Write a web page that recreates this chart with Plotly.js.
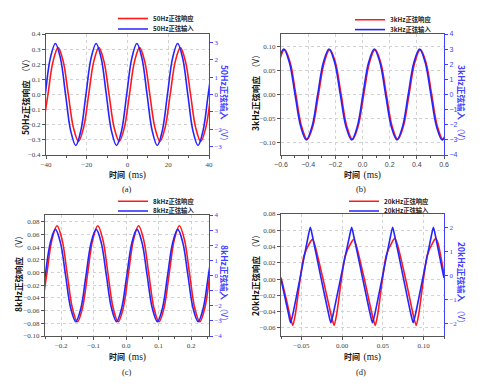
<!DOCTYPE html>
<html><head><meta charset="utf-8">
<script src="https://cdn.plot.ly/plotly-3.0.1.min.js"></script>
<style>html,body{margin:0;padding:0;background:#fff}#chart{width:479px;height:388px}</style>
</head><body><div id="chart"></div>
<script>
// ---------- Panel (a) 50Hz ----------
const aTimeIn = [-42.9, -40.4, -37.9, -35.4, -32.9, -30.4, -27.9, -25.4, -22.9, -20.4, -17.9, -15.4, -12.9, -10.4, -7.9, -5.4, -2.9, -0.4, 2.1, 4.6, 7.1, 9.6, 12.1, 14.6, 17.1, 19.6, 22.1, 24.6, 27.1, 29.6, 32.1, 34.6, 37.1, 39.6, 42.1];
const aIn = [-2.09, 0, 2.09, 2.95, 2.09, 0, -2.09, -2.95, -2.09, 0, 2.09, 2.95, 2.09, 0, -2.09, -2.95, -2.09, 0, 2.09, 2.95, 2.09, 0, -2.09, -2.95, -2.09, 0, 2.09, 2.95, 2.09, 0, -2.09, -2.95, -2.09, 0, 2.09];
const aTimeResp = [-41.55, -39.05, -36.55, -34.05, -31.55, -29.05, -26.55, -24.05, -21.55, -19.05, -16.55, -14.05, -11.55, -9.05, -6.55, -4.05, -1.55, 0.95, 3.45, 5.95, 8.45, 10.95, 13.45, 15.95, 18.45, 20.95, 23.45, 25.95, 28.45, 30.95, 33.45, 35.95, 38.45, 40.95, 43.45];
const aResp = [-0.219, 0, 0.219, 0.31, 0.219, 0, -0.219, -0.31, -0.219, 0, 0.219, 0.31, 0.219, 0, -0.219, -0.31, -0.219, 0, 0.219, 0.31, 0.219, 0, -0.219, -0.31, -0.219, 0, 0.219, 0.31, 0.219, 0, -0.219, -0.31, -0.219, 0, 0.219];

// ---------- Panel (b) 3kHz ----------
const bTimeIn = [-0.705, -0.6633, -0.6217, -0.58, -0.5383, -0.4967, -0.455, -0.4133, -0.3717, -0.33, -0.2883, -0.2467, -0.205, -0.1633, -0.1217, -0.08, -0.0383, 0.0033, 0.045, 0.0867, 0.1283, 0.17, 0.2117, 0.2533, 0.295, 0.3367, 0.3783, 0.42, 0.4617, 0.5033, 0.545, 0.5867, 0.6283];
const bIn = [-2.12, 0, 2.12, 3, 2.12, 0, -2.12, -3, -2.12, 0, 2.12, 3, 2.12, 0, -2.12, -3, -2.12, 0, 2.12, 3, 2.12, 0, -2.12, -3, -2.12, 0, 2.12, 3, 2.12, 0, -2.12, -3, -2.12];
const bTimeResp = [-0.699, -0.6573, -0.6157, -0.574, -0.5323, -0.4907, -0.449, -0.4073, -0.3657, -0.324, -0.2823, -0.2407, -0.199, -0.1573, -0.1157, -0.074, -0.0323, 0.0093, 0.051, 0.0927, 0.1343, 0.176, 0.2177, 0.2593, 0.301, 0.3427, 0.3843, 0.426, 0.4677, 0.5093, 0.551, 0.5927, 0.6343];
const bResp = [-0.0665, 0, 0.0665, 0.094, 0.0665, 0, -0.0665, -0.094, -0.0665, 0, 0.0665, 0.094, 0.0665, 0, -0.0665, -0.094, -0.0665, 0, 0.0665, 0.094, 0.0665, 0, -0.0665, -0.094, -0.0665, 0, 0.0665, 0.094, 0.0665, 0, -0.0665, -0.094, -0.0665];

// ---------- Panel (c) 8kHz ----------
const cTimeIn = [-0.2651, -0.2494, -0.2337, -0.218, -0.2023, -0.1866, -0.1709, -0.1552, -0.1395, -0.1238, -0.1081, -0.0924, -0.0767, -0.061, -0.0453, -0.0296, -0.0139, 0.0018, 0.0175, 0.0332, 0.0489, 0.0646, 0.0803, 0.096, 0.1117, 0.1274, 0.1431, 0.1588, 0.1745, 0.1902, 0.2059, 0.2216, 0.2373, 0.253, 0.2687];
const cIn = [-2.16, 0, 2.16, 3.05, 2.16, 0, -2.16, -3.05, -2.16, 0, 2.16, 3.05, 2.16, 0, -2.16, -3.05, -2.16, 0, 2.16, 3.05, 2.16, 0, -2.16, -3.05, -2.16, 0, 2.16, 3.05, 2.16, 0, -2.16, -3.05, -2.16, 0, 2.16];
const cTimeResp = [-0.2601, -0.2444, -0.2287, -0.213, -0.1973, -0.1816, -0.1659, -0.1502, -0.1345, -0.1188, -0.1031, -0.0874, -0.0717, -0.056, -0.0403, -0.0246, -0.0089, 0.0068, 0.0225, 0.0382, 0.0539, 0.0696, 0.0853, 0.101, 0.1167, 0.1324, 0.1481, 0.1638, 0.1795, 0.1952, 0.2109, 0.2266, 0.2423, 0.258, 0.2737];
const cResp = [-0.0554, -0.0018, 0.0518, 0.074, 0.0518, -0.0018, -0.0554, -0.0776, -0.0554, -0.0018, 0.0518, 0.074, 0.0518, -0.0018, -0.0554, -0.0776, -0.0554, -0.0018, 0.0518, 0.074, 0.0518, -0.0018, -0.0554, -0.0776, -0.0554, -0.0018, 0.0518, 0.074, 0.0518, -0.0018, -0.0554, -0.0776, -0.0554, -0.0018, 0.0518];

// ---------- Panel (d) 20kHz ----------
const dTimeIn = [-0.075, -0.066, -0.0633, -0.0605, -0.051, -0.0415, -0.039, -0.0365, -0.0265, -0.0165, -0.0138, -0.011, -0.0012, 0.0092, 0.0117, 0.0142, 0.0245, 0.0345, 0.0373, 0.0401, 0.0497, 0.0595, 0.062, 0.0645, 0.0746, 0.0844, 0.0872, 0.09, 0.0996, 0.1095, 0.112, 0.1145, 0.125];
const dIn = [-0.15, -1.55, -1.95, -1.6, 0.0, 1.65, 2.0, 1.65, 0.0, -1.6, -1.95, -1.6, 0.0, 1.65, 2.0, 1.65, 0.0, -1.6, -1.95, -1.6, 0.0, 1.65, 2.0, 1.65, 0.0, -1.6, -1.95, -1.6, 0.0, 1.65, 2.0, 1.65, -0.1];
const dTimeResp = [-0.075, -0.068, -0.0635, -0.0605, -0.0575, -0.047, -0.0395, -0.0365, -0.0335, -0.0225, -0.0128, -0.0098, -0.0068, 0.0037, 0.0112, 0.0142, 0.0172, 0.0282, 0.0376, 0.0406, 0.0436, 0.0541, 0.0616, 0.0646, 0.0676, 0.0786, 0.0879, 0.0909, 0.0939, 0.1044, 0.1119, 0.1149, 0.1179, 0.125];
const dResp = [0.002, -0.027, -0.047, -0.057, -0.044, 0.028, 0.045, 0.049, 0.042, -0.004, -0.047, -0.057, -0.044, 0.028, 0.045, 0.049, 0.042, -0.004, -0.047, -0.057, -0.044, 0.029, 0.046, 0.050, 0.043, -0.003, -0.047, -0.057, -0.044, 0.029, 0.046, 0.050, 0.043, 0.006];

// ---------- Labels ----------
const respNames = ['50Hz正弦响应', '3kHz正弦响应', '8kHz正弦响应', '20kHz正弦响应'];
const inNames = ['50Hz正弦输入', '3kHz正弦输入', '8kHz正弦输入', '20kHz正弦输入'];
const captions = ['(a)', '(b)', '(c)', '(d)'];
const xTitle = '时间';
const xUnit = '(ms)';
const yUnit = '（V）';

const W = 479, H = 388;
const RED = '#ff1a1a', BLUE = '#2424ff', AX = '#555555', BLUE_AX = '#4040ff';
const px = v => v / W, py = v => 1 - v / H;

const panels = [
  {t1: aTimeResp, r: aResp, t2: aTimeIn, s: aIn, x0: 46, x1: 209, y0: 34, y1: 155,
   xr: [-40, 40], xd: 20, xm: 10, xf: 'd', yr: [-0.4, 0.4], yd: 0.1, yf: '.1f', y2r: [-3.5, 3.5], y2d: 1, sans: false},
  {t1: bTimeResp, r: bResp, t2: bTimeIn, s: bIn, x0: 281, x1: 444, y0: 34, y1: 155,
   xr: [-0.6, 0.6], xd: 0.2, xm: 0.1, xf: '.1f', yr: [-0.1265, 0.1265], yd: 0.05, yf: '.2f', y2r: [-4, 4], y2d: 1, sans: true},
  {t1: cTimeResp, r: cResp, t2: cTimeIn, s: cIn, x0: 45, x1: 209, y0: 215, y1: 336,
   xr: [-0.25, 0.255], xd: 0.1, xm: 0.05, xf: '.1f', yr: [-0.1, 0.091], yd: 0.02, yf: '.2f', y2r: [-4, 4], y2d: 1, sans: false},
  {t1: dTimeResp, r: dResp, t2: dTimeIn, s: dIn, x0: 281, x1: 444, y0: 214, y1: 336,
   xr: [-0.075, 0.125], xd: 0.05, xm: 0.025, xf: '.2f', yr: [-0.07, 0.08], yd: 0.02, yf: '.2f', y2r: [-2.5, 2.55], y2d: 1, sans: false}
];

// positions of titles, legends, captions (pixels, centres)
const leftTitle = [[25, 95], [255, 90], [18, 272], [255, 273]];
const rightTitle = [[225, 105], [462, 105], [225, 285], [462, 285]];
const xTitlePos = [[128, 175], [362, 175], [127, 357], [362, 357]];
const capPos = [[127, 189], [361, 189], [127, 372], [361, 372]];
const legPos = [[153, 18.5, 29], [390, 19.8, 29.6], [153, 201.2, 211], [384, 201.2, 211]];

const data = [], layout = {
  width: W, height: H, margin: {l: 0, r: 0, t: 0, b: 0},
  paper_bgcolor: '#fff', plot_bgcolor: '#fff', showlegend: true, annotations: []
};

const serif = 'Liberation Serif', sansF = 'Liberation Sans', cjk = 'Noto Sans CJK SC';

panels.forEach((p, i) => {
  const xn = i === 0 ? '' : String(i + 1);
  const yl = String(2 * i + 1), yr = String(2 * i + 2);
  const ylName = yl === '1' ? '' : yl;
  const tf = p.sans ? sansF : serif;
  const lgR = i === 0 ? 'legend' : 'legend' + (2 * i + 1);
  const lgI = 'legend' + (2 * i + 2);
  const smooth = i === 3 ? 0.6 : 1;
  data.push({x: p.t1, y: p.r, type: 'scatter', mode: 'lines', name: respNames[i],
    xaxis: 'x' + xn, yaxis: 'y' + ylName, legend: lgR,
    line: {color: RED, width: 1.6, shape: 'spline', smoothing: smooth}});
  data.push({x: p.t2, y: p.s, type: 'scatter', mode: 'lines', name: inNames[i],
    xaxis: 'x' + xn, yaxis: 'y' + yr, legend: lgI,
    line: {color: BLUE, width: 1.6, shape: 'spline', smoothing: smooth}});

  layout['xaxis' + xn] = {
    domain: [px(p.x0), px(p.x1)], range: p.xr, anchor: 'y' + ylName,
    showline: true, linecolor: AX, linewidth: 1, mirror: true,
    ticks: 'outside', ticklen: 3, tickcolor: AX, tick0: 0, dtick: p.xd, tickformat: p.xf,
    tickfont: {family: tf, size: 7, color: '#444'},
    minor: {dtick: p.xm, ticks: 'outside', ticklen: 1.5, tickcolor: AX, showgrid: false},
    showgrid: true, gridcolor: '#d2d2d2', griddash: 'dot', gridwidth: 1, zeroline: false, fixedrange: true
  };
  layout['yaxis' + ylName] = {
    domain: [py(p.y1), py(p.y0)], range: p.yr, anchor: 'x' + xn,
    showline: true, linecolor: AX, linewidth: 1,
    ticks: 'outside', ticklen: 3, tickcolor: AX, tick0: 0, dtick: p.yd, tickformat: p.yf,
    tickfont: {family: serif, size: 7, color: '#444'},
    showgrid: true, gridcolor: '#d2d2d2', griddash: 'dot', gridwidth: 1, zeroline: false, fixedrange: true
  };
  layout['yaxis' + yr] = {
    overlaying: 'y' + ylName, side: 'right', anchor: 'x' + xn, range: p.y2r,
    showline: true, linecolor: BLUE_AX, linewidth: 1,
    ticks: 'outside', ticklen: 3, tickcolor: BLUE_AX, tick0: 0, dtick: p.y2d,
    tickfont: {family: p.sans ? sansF : serif, size: 7, color: BLUE_AX},
    showgrid: false, zeroline: false, fixedrange: true
  };

  // legends (one entry each)
  const lp = legPos[i];
  const lgBase = {x: px(lp[0] - 40), xanchor: 'left', yanchor: 'middle', bgcolor: 'rgba(0,0,0,0)',
    borderwidth: 0, font: {family: cjk, size: 6.3, color: '#222', weight: 'bold'}, itemwidth: 30, tracegroupgap: 0};
  layout[lgR] = Object.assign({}, lgBase, {y: py(lp[1])});
  layout[lgI] = Object.assign({}, lgBase, {y: py(lp[2])});

  // axis titles and captions
  const lt = leftTitle[i], rt = rightTitle[i], xt = xTitlePos[i], cp = capPos[i];
  const base = {xref: 'paper', yref: 'paper', showarrow: false, xanchor: 'center', yanchor: 'middle'};
  layout.annotations.push(Object.assign({}, base, {x: px(lt[0]), y: py(lt[1]),
    textangle: -90, text: '<b>' + respNames[i] + '</b>  ' + yUnit,
    font: {family: cjk, size: 8.5, color: '#111'}}));
  layout.annotations.push(Object.assign({}, base, {x: px(rt[0]), y: py(rt[1]),
    textangle: 90, text: '<b>' + inNames[i] + '</b>  ' + yUnit,
    font: {family: cjk, size: 8.5, color: BLUE_AX}}));
  layout.annotations.push(Object.assign({}, base, {x: px(xt[0]), y: py(xt[1]),
    text: '<b>' + xTitle + '</b>  <span style="font-family:Liberation Serif;font-size:9.5px">' + xUnit + '</span>',
    font: {family: cjk, size: 8, color: '#111'}}));
  layout.annotations.push(Object.assign({}, base, {x: px(cp[0]), y: py(cp[1]),
    text: captions[i], font: {family: serif, size: 8.5, color: '#222'}}));
});

Plotly.newPlot('chart', data, layout, {displayModeBar: false, staticPlot: true});
</script></body></html>
